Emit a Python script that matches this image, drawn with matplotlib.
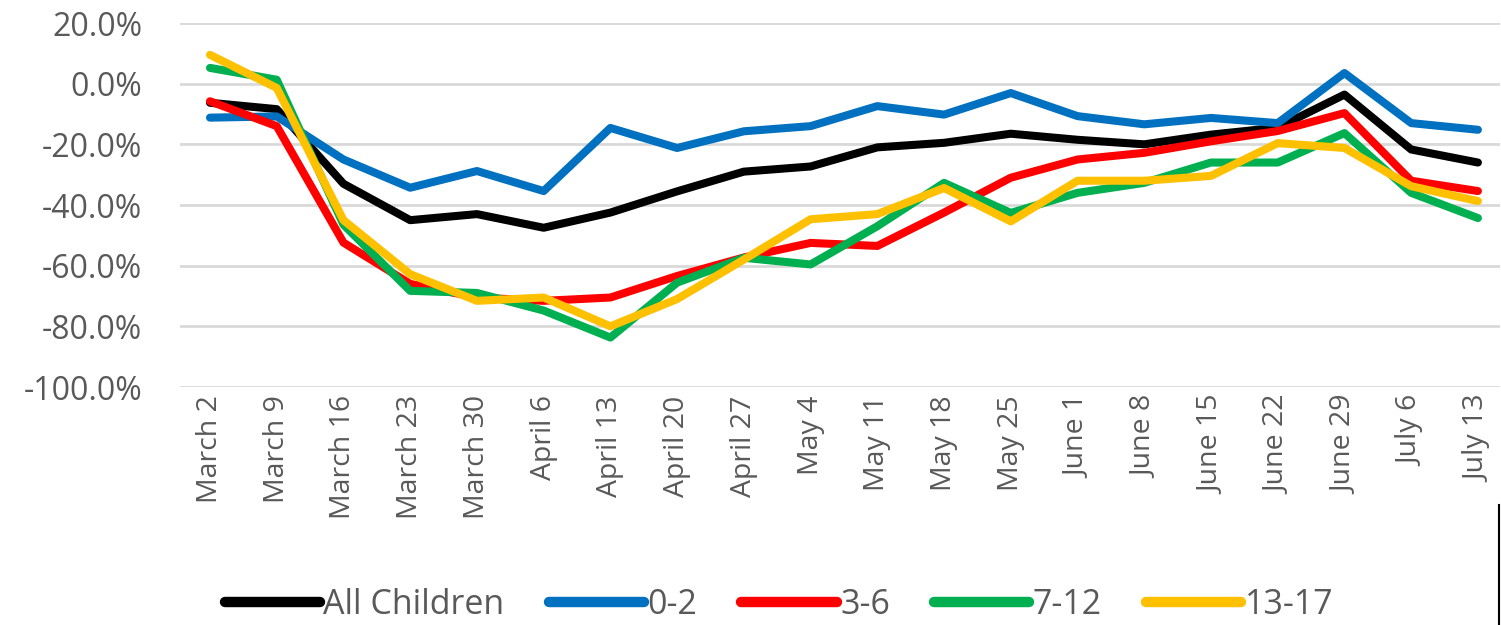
import matplotlib
matplotlib.use('Agg')
import matplotlib.pyplot as plt
from matplotlib.lines import Line2D
from matplotlib.ticker import FuncFormatter

plt.rcParams['font.family'] = ['Open Sans', 'DejaVu Sans']

weeks = ['March 2', 'March 9', 'March 16', 'March 23', 'March 30', 'April 6',
         'April 13', 'April 20', 'April 27', 'May 4', 'May 11', 'May 18',
         'May 25', 'June 1', 'June 8', 'June 15', 'June 22', 'June 29',
         'July 6', 'July 13']

# percent change
all_children = [-6.3, -8.4, -33.0, -45.0, -43.0, -47.5, -42.5, -35.5, -29.0, -27.3,
                -21.0, -19.5, -16.5, -18.5, -20.0, -16.8, -14.5, -3.6, -21.7, -26.0]
age_0_2 = [-11.2, -10.8, -25.0, -34.3, -28.8, -35.4, -14.6, -21.2, -15.7, -14.0,
           -7.4, -10.2, -3.1, -10.7, -13.4, -11.3, -13.0, 3.5, -13.0, -15.2]
age_3_6 = [-5.8, -14.0, -52.4, -66.0, -70.5, -71.6, -70.5, -63.4, -57.3, -52.5,
           -53.5, -42.5, -31.0, -25.0, -22.8, -19.0, -15.6, -9.7, -32.0, -35.4]
age_7_12 = [5.2, 1.3, -46.5, -68.3, -69.0, -74.8, -83.7, -65.6, -57.4, -59.6,
            -47.0, -32.7, -42.6, -36.0, -32.7, -26.0, -26.0, -16.3, -36.0, -44.3]
age_13_17 = [9.5, -1.4, -45.0, -62.8, -71.6, -70.5, -80.0, -71.0, -58.0, -44.7,
             -43.0, -34.4, -45.4, -32.0, -32.0, -30.4, -19.6, -21.2, -33.8, -38.7]

series = [('All Children', all_children, '#000000'),
          ('0-2', age_0_2, '#0070C0'),
          ('3-6', age_3_6, '#FF0000'),
          ('7-12', age_7_12, '#00B050'),
          ('13-17', age_13_17, '#FFC000')]

text_color = '#595959'

fig = plt.figure(figsize=(15.01, 6.25), dpi=100)
ax = fig.add_axes([0.1199, 0.3808, 0.8794, 0.5824])

x = list(range(len(weeks)))
for label, vals, color in series:
    ax.plot(x, [v / 100 for v in vals], color=color, lw=5.8, label=label,
            solid_capstyle='round', solid_joinstyle='round')

ax.set_ylim(-1.0, 0.2)
ax.set_yticks([0.2, 0.0, -0.2, -0.4, -0.6, -0.8, -1.0])
ax.yaxis.set_major_formatter(FuncFormatter(lambda v, p: f'{v * 100:.1f}%'))
ax.set_xlim(-0.45, 19.33)
ax.set_xticks(x)
ax.set_xticklabels(weeks, rotation=90)

ax.grid(axis='y', color='#D9D9D9', lw=2)
ax.set_axisbelow(True)
for s in ax.spines.values():
    s.set_visible(False)
ax.tick_params(axis='y', length=0, pad=27, labelsize=23, labelcolor=text_color)
ax.tick_params(axis='x', length=0, pad=6, labelsize=20.5, labelcolor=text_color)

leg = fig.legend(loc='center', bbox_to_anchor=(0.519, 0.032), ncol=5, frameon=False,
                 fontsize=24.5, handlelength=2.8, handletextpad=0.1, columnspacing=1.3)
for t in leg.get_texts():
    t.set_color(text_color)
for h in leg.get_lines():
    h.set_linewidth(7.5)

# thin border fragment at the right edge
fig.add_artist(Line2D([0.9987, 0.9987], [0.0, 0.192], color='black', lw=1.5,
                      transform=fig.transFigure))

plt.savefig('out.png', dpi=100)
